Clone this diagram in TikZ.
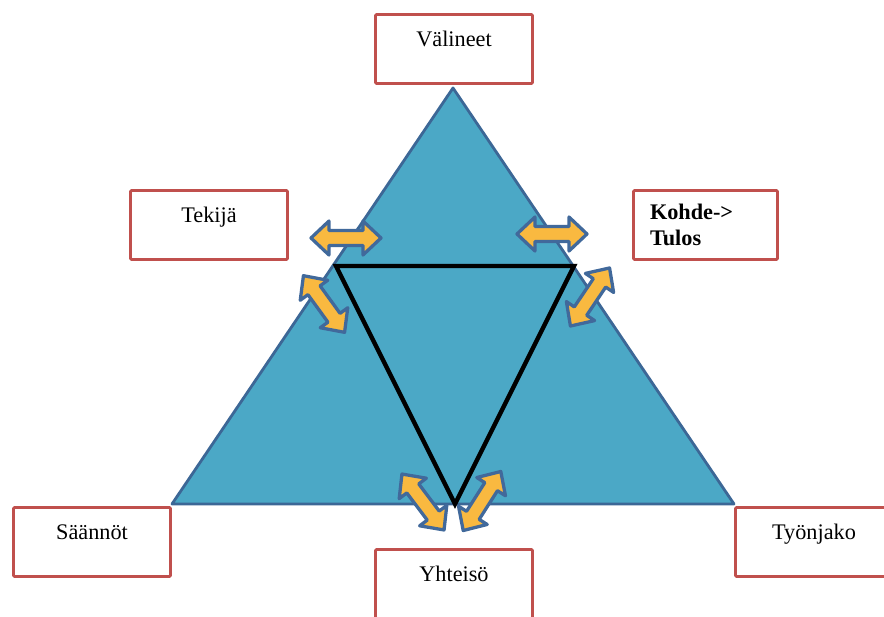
\documentclass[tikz,border=0pt]{standalone}
\usepackage{fontspec}
\setmainfont{Liberation Serif}
\usepackage{xcolor}
\usepackage{tikz}
\usetikzlibrary{positioning}

\definecolor{boxred}{HTML}{C0504D}
\definecolor{trifill}{HTML}{4BA8C6}
\definecolor{triedge}{HTML}{3C6796}
\definecolor{arrfill}{HTML}{F9B940}
\definecolor{arredge}{HTML}{41699B}

\begin{document}
\begin{tikzpicture}[x=0.03cm, y=-0.03cm,
  every node/.style={font=\fontsize{19}{21.5}\selectfont},
  box/.style={draw=boxred, line width=2.5pt, fill=white, rounded corners=1pt,
    minimum width=4.71cm, minimum height=2.07cm, inner sep=0pt},
  boxtext/.style={anchor=base, yshift=-1.0cm},
  darr/.pic={
    \draw[draw=arredge, fill=arrfill, line width=2.8pt, line join=round]
      (-35,0) -- (-17,-17) -- (-17,-7.5) -- (17,-7.5) -- (17,-17) -- (35,0)
      -- (17,17) -- (17,7.5) -- (-17,7.5) -- (-17,17) -- cycle;
  }]

\useasboundingbox (0,0) rectangle (884,617);

% Outer triangle
\coordinate (top) at (453,88);
\coordinate (bl) at (172,504);
\coordinate (br) at (734,504);
\draw[fill=trifill, draw=triedge, line width=2.4pt, line join=round] (top) -- (bl) -- (br) -- cycle;

% Inner triangle
\coordinate (il) at (336,266);
\coordinate (ir) at (574,266);
\coordinate (ib) at (455,504);
\draw[black, line width=3.8pt] (il) -- (ir) -- (ib) -- cycle;

% Double arrows
\pic at (346,238) {darr};
\pic[rotate=-54] at (324,304) {darr};
\pic at (552,234) {darr};
\pic[rotate=56] at (590,297) {darr};
\pic[rotate=-53] at (423,502) {darr};
\pic[rotate=57.5] at (482,501) {darr};

% Boxes
\node[box, label={[boxtext]north:Välineet}] (valineet) at (454,49) {};
\node[box, label={[boxtext]north:Tekijä}] (tekija) at (209,225) {};
\node[box, minimum width=4.32cm, align=left, text width=3.33cm, font=\fontsize{19}{21.5}\selectfont\bfseries] (kohde) at (705.5,225) {Kohde->\\Tulos};
\node[box, label={[boxtext]north:Säännöt}] (saannot) at (92,542) {};
\node[box, label={[boxtext]north:Yhteisö}] (yhteiso) at (454,584) {};
\node[box, label={[boxtext]north:Työnjako}] (tyonjako) at (814,542) {};

\end{tikzpicture}
\end{document}
